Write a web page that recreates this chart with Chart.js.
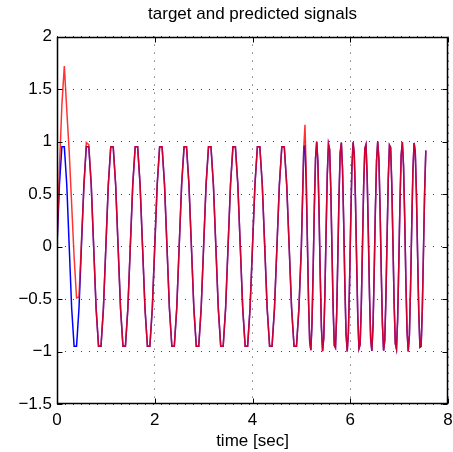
<!DOCTYPE html>
<html>
<head>
<meta charset="utf-8">
<script src="https://cdn.jsdelivr.net/npm/chart.js@4"></script>
<style>
  body { margin: 0; background: #fff; }
  canvas { display: block; }
</style>
</head>
<body>
<canvas id="signalChart" width="453" height="452"></canvas>
<script>
// time axis, first part (0..5 s, step 0.05)
const time1 = [
  0, 0.05, 0.1, 0.15, 0.2, 0.25, 0.3, 0.35, 0.4, 0.45,
  0.5, 0.55, 0.6, 0.65, 0.7, 0.75, 0.8, 0.85, 0.9, 0.95,
  1, 1.05, 1.1, 1.15, 1.2, 1.25, 1.3, 1.35, 1.4, 1.45,
  1.5, 1.55, 1.6, 1.65, 1.7, 1.75, 1.8, 1.85, 1.9, 1.95,
  2, 2.05, 2.1, 2.15, 2.2, 2.25, 2.3, 2.35, 2.4, 2.45,
  2.5, 2.55, 2.6, 2.65, 2.7, 2.75, 2.8, 2.85, 2.9, 2.95,
  3, 3.05, 3.1, 3.15, 3.2, 3.25, 3.3, 3.35, 3.4, 3.45,
  3.5, 3.55, 3.6, 3.65, 3.7, 3.75, 3.8, 3.85, 3.9, 3.95,
  4, 4.05, 4.1, 4.15, 4.2, 4.25, 4.3, 4.35, 4.4, 4.45,
  4.5, 4.55, 4.6, 4.65, 4.7, 4.75, 4.8, 4.85, 4.9, 4.95,
  5
];
// time axis, second part (faster sampling)
const time2 = [
  5.050, 5.074, 5.098, 5.122, 5.146, 5.170, 5.194, 5.218, 5.242, 5.266,
  5.290, 5.314, 5.338, 5.362, 5.386, 5.410, 5.434, 5.458, 5.482, 5.506,
  5.530, 5.554, 5.578, 5.602, 5.626, 5.650, 5.674, 5.698, 5.722, 5.746,
  5.770, 5.794, 5.818, 5.842, 5.866, 5.890, 5.914, 5.938, 5.962, 5.986,
  6.010, 6.034, 6.058, 6.082, 6.106, 6.130, 6.154, 6.178, 6.202, 6.226,
  6.250, 6.274, 6.298, 6.322, 6.346, 6.370, 6.394, 6.418, 6.442, 6.466,
  6.490, 6.514, 6.538, 6.562, 6.586, 6.610, 6.634, 6.658, 6.682, 6.706,
  6.730, 6.754, 6.778, 6.802, 6.826, 6.850, 6.874, 6.898, 6.922, 6.946,
  6.970, 6.994, 7.018, 7.042, 7.066, 7.090, 7.114, 7.138, 7.162, 7.186,
  7.210, 7.234, 7.258, 7.282, 7.306, 7.330, 7.354, 7.378, 7.402, 7.426,
  7.450, 7.474, 7.498, 7.522, 7.546
];

// target signal (blue)
const target1 = [
  0, 0.588, 0.951, 0.951, 0.588, 0, -0.588, -0.951, -0.951, -0.588,
  0, 0.588, 0.951, 0.951, 0.588, 0, -0.588, -0.951, -0.951, -0.588,
  0, 0.588, 0.951, 0.951, 0.588, 0, -0.588, -0.951, -0.951, -0.588,
  0, 0.588, 0.951, 0.951, 0.588, 0, -0.588, -0.951, -0.951, -0.588,
  0, 0.588, 0.951, 0.951, 0.588, 0, -0.588, -0.951, -0.951, -0.588,
  0, 0.588, 0.951, 0.951, 0.588, 0, -0.588, -0.951, -0.951, -0.588,
  0, 0.588, 0.951, 0.951, 0.588, 0, -0.588, -0.951, -0.951, -0.588,
  0, 0.588, 0.951, 0.951, 0.588, 0, -0.588, -0.951, -0.951, -0.588,
  0, 0.588, 0.951, 0.951, 0.588, 0, -0.588, -0.951, -0.951, -0.588,
  0, 0.588, 0.951, 0.951, 0.588, 0, -0.588, -0.951, -0.951, -0.588,
  0
];
const target2 = [
  0.951, 0.959, 0.628, 0.075, -0.504, -0.905, -0.987, -0.720, -0.200, 0.391,
  0.844, 0.999, 0.802, 0.321, -0.273, -0.771, -0.996, -0.870, -0.437, 0.150,
  0.685, 0.977, 0.925, 0.546, -0.025, -0.588, -0.943, -0.965, -0.647, -0.100,
  0.482, 0.894, 0.991, 0.737, 0.224, -0.368, -0.831, -1.000, -0.816, -0.345,
  0.249, 0.754, 0.994, 0.882, 0.460, -0.125, -0.666, -0.972, -0.934, -0.567,
  0.000, 0.567, 0.934, 0.972, 0.666, 0.125, -0.460, -0.882, -0.994, -0.754,
  -0.249, 0.345, 0.816, 1.000, 0.831, 0.368, -0.224, -0.737, -0.991, -0.894,
  -0.482, 0.100, 0.647, 0.965, 0.943, 0.588, 0.025, -0.546, -0.925, -0.977,
  -0.685, -0.150, 0.437, 0.870, 0.996, 0.771, 0.273, -0.321, -0.802, -0.999,
  -0.844, -0.391, 0.200, 0.720, 0.987, 0.905, 0.504, -0.075, -0.628, -0.959,
  -0.951, -0.608, -0.050, 0.525, 0.915
];

// predicted signal (red) - overshoot at start, spike at the switch
const predicted1 = [
  0, 0.75, 1.35, 1.72, 1.3, 0.9, 0.4, -0.1, -0.49, -0.48,
  0.05, 0.55, 0.99, 0.97, 0.6, 0, -0.588, -0.951, -0.951, -0.588,
  0, 0.588, 0.951, 0.951, 0.588, 0, -0.588, -0.951, -0.951, -0.588,
  0, 0.588, 0.951, 0.951, 0.588, 0, -0.588, -0.951, -0.951, -0.588,
  0, 0.588, 0.951, 0.951, 0.588, 0, -0.588, -0.951, -0.951, -0.588,
  0, 0.588, 0.951, 0.951, 0.588, 0, -0.588, -0.951, -0.951, -0.588,
  0, 0.588, 0.951, 0.951, 0.588, 0, -0.588, -0.951, -0.951, -0.588,
  0, 0.588, 0.951, 0.951, 0.588, 0, -0.588, -0.951, -0.951, -0.588,
  0, 0.588, 0.951, 0.951, 0.588, 0, -0.588, -0.951, -0.951, -0.588,
  0, 0.588, 0.951, 0.951, 0.588, 0, -0.588, -0.951, -0.951, -0.588,
  0
];
const predicted2 = [
  0.951, 1.16, 0.72, 0.08, -0.504, -0.905, -0.987, -0.720, -0.200, 0.391,
  0.844, 0.999, 0.802, 0.321, -0.273, -0.771, -0.996, -0.870, -0.437, 0.150,
  0.685, 0.977, 0.925, 0.546, -0.025, -0.588, -0.943, -0.965, -0.647, -0.100,
  0.482, 0.894, 0.991, 0.737, 0.224, -0.368, -0.831, -1.000, -0.816, -0.345,
  0.249, 0.754, 0.994, 0.882, 0.460, -0.125, -0.666, -0.972, -0.934, -0.567,
  0.000, 0.567, 0.934, 0.972, 0.666, 0.125, -0.460, -0.882, -0.994, -0.754,
  -0.249, 0.345, 0.816, 1.000, 0.831, 0.368, -0.224, -0.737, -0.991, -0.894,
  -0.482, 0.100, 0.647, 0.965, 0.943, 0.588, 0.025, -0.546, -0.925, -0.977,
  -0.685, -0.150, 0.437, 0.870, 0.996, 0.771, 0.273, -0.321, -0.802, -0.999,
  -0.844, -0.391, 0.200, 0.720, 0.987, 0.905, 0.504, -0.075, -0.628, -0.959,
  -0.951, -0.608, -0.050, 0.525, 0.915
];

// axis ticks
const xTicks = [0, 2, 4, 6, 8];
const yTicks = [-1.5, -1, -0.5, 0, 0.5, 1, 1.5, 2];

const time = time1.concat(time2);
const target = target1.concat(target2);
const predicted = predicted1.concat(predicted2);

const FONT = { family: '"Liberation Sans", Arial, Helvetica, sans-serif', size: 17 };

// black box with inward ticks, matlab style
const boxPlugin = {
    id: 'box',
    afterDatasetsDraw(chart) {
        const { ctx, chartArea: a, scales } = chart;
        const L = Math.round(a.left) + 0.5, R = Math.round(a.right) - 0.5;
        const T = Math.round(a.top) + 0.5, B = Math.round(a.bottom) - 0.5;
        ctx.save();
        ctx.strokeStyle = '#000';
        ctx.lineWidth = 1.5;
        ctx.strokeRect(L, T, R - L, B - T);
        ctx.lineWidth = 1;
        ctx.beginPath();
        scales.x.ticks.forEach(t => {
            const px = Math.round(scales.x.getPixelForValue(t.value)) + 0.5;
            ctx.moveTo(px, B); ctx.lineTo(px, B - 5);
            ctx.moveTo(px, T); ctx.lineTo(px, T + 5);
        });
        scales.y.ticks.forEach(t => {
            const py = Math.round(scales.y.getPixelForValue(t.value)) + 0.5;
            ctx.moveTo(L, py); ctx.lineTo(L + 5, py);
            ctx.moveTo(R, py); ctx.lineTo(R - 5, py);
        });
        ctx.stroke();
        ctx.restore();
    }
};

const ctx = document.getElementById('signalChart').getContext('2d');
new Chart(ctx, {
    type: 'scatter',
    data: {
        datasets: [{
            label: 'predicted',
            data: time.map((t, i) => ({ x: t, y: predicted[i] })),
            showLine: true,
            borderColor: 'rgba(255,0,0,0.8)',
            borderWidth: 1.5,
            pointRadius: 0,
            tension: 0,
            order: 0
        }, {
            label: 'target',
            data: time.map((t, i) => ({ x: t, y: target[i] })),
            showLine: true,
            borderColor: '#0000ff',
            borderWidth: 1.5,
            pointRadius: 0,
            tension: 0,
            order: 1
        }]
    },
    options: {
        responsive: false,
        animation: false,
        layout: { padding: { left: 0, right: 0, top: 0, bottom: 0 } },
        plugins: {
            legend: { display: false },
            tooltip: { enabled: false },
            title: {
                display: true,
                fullSize: false,
                text: 'target and predicted signals',
                color: '#000',
                font: { ...FONT, weight: 'normal' },
                padding: { top: 4, bottom: 12.2 }
            }
        },
        scales: {
            x: {
                type: 'linear',
                min: 0,
                max: 8,
                afterBuildTicks: s => { s.ticks = xTicks.map(v => ({ value: v })); },
                afterFit: s => { s.height = 48; s.paddingRight = 5; s.paddingLeft = 0; },
                ticks: { color: '#000', font: FONT, padding: 6, maxRotation: 0 },
                grid: { color: 'rgba(0,0,0,0.75)', drawTicks: false, borderDash: [1, 7] },
                border: { display: false, dash: [1, 7] },
                title: {
                    display: true,
                    text: 'time [sec]',
                    color: '#000',
                    font: FONT,
                    padding: { top: 0, bottom: 0 }
                }
            },
            y: {
                type: 'linear',
                min: -1.5,
                max: 2,
                afterBuildTicks: s => { s.ticks = yTicks.map(v => ({ value: v })); },
                afterFit: s => { s.width = 57; },
                ticks: {
                    color: '#000',
                    font: FONT,
                    padding: 5,
                    callback: v => v < 0 ? '\u2212' + Math.abs(v) : String(v)
                },
                grid: { color: 'rgba(0,0,0,0.75)', drawTicks: false, borderDash: [1, 7] },
                border: { display: false, dash: [1, 7] }
            }
        }
    },
    plugins: [boxPlugin]
});
</script>
</body>
</html>
